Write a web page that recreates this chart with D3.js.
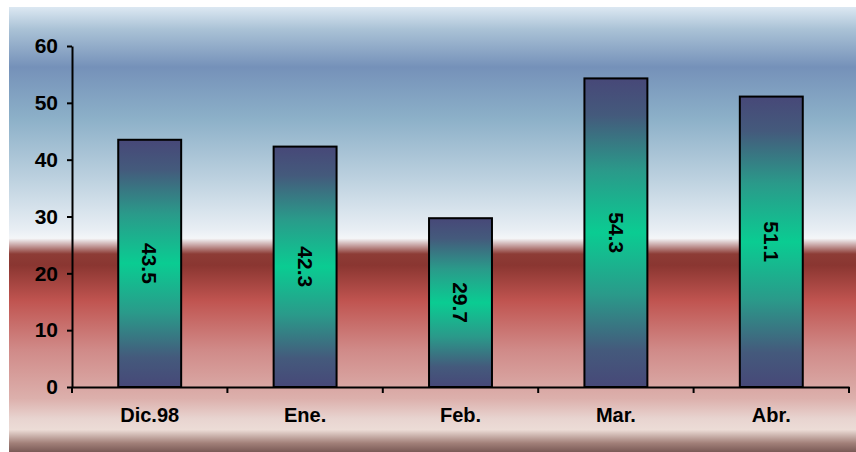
<!DOCTYPE html>
<html><head><meta charset="utf-8">
<script src="https://cdn.jsdelivr.net/npm/d3@7"></script>
<style>html,body{margin:0;padding:0;background:#fff;}svg{display:block;}</style>
</head><body>
<script>
const categories = ["Dic.98", "Ene.", "Feb.", "Mar.", "Abr."];
const values = [43.5, 42.3, 29.7, 54.3, 51.1];
const yTicks = [0, 10, 20, 30, 40, 50, 60];

const W = 856, H = 452;
const svg = d3.select("body").append("svg").attr("width", W).attr("height", H);
const defs = svg.append("defs");

const bg = defs.append("linearGradient").attr("id", "bg").attr("x1", 0).attr("y1", 0).attr("x2", 0).attr("y2", 1);
const bgStops = [
  [0, "#dce8f2"], [0.05, "#aac2d6"], [0.135, "#7591b9"], [0.25, "#8cb0c8"],
  [0.39, "#bed2e0"], [0.5, "#e8eef4"], [0.52, "#f4f6f8"], [0.535, "#c9a6a6"],
  [0.555, "#8d3c36"], [0.58, "#8a3631"], [0.66, "#c05450"], [0.77, "#d08a88"],
  [0.88, "#dcb0ac"], [0.925, "#e8d4d0"], [0.95, "#ecdcd6"], [0.98, "#a28079"], [1, "#7a5a56"]
];
bgStops.forEach(s => bg.append("stop").attr("offset", s[0]).attr("stop-color", s[1]));

const bar = defs.append("linearGradient").attr("id", "bar").attr("x1", 0).attr("y1", 0).attr("x2", 0).attr("y2", 1);
[[0, "#474878"], [0.12, "#445a7c"], [0.3, "#2a9a8a"], [0.5, "#0acc92"], [0.7, "#2a9a8a"], [0.88, "#445a7c"], [1, "#474878"]]
  .forEach(s => bar.append("stop").attr("offset", s[0]).attr("stop-color", s[1]));

svg.append("rect").attr("x", 9).attr("y", 7).attr("width", W - 9).attr("height", H - 7).attr("fill", "url(#bg)");

const x = d3.scaleBand().domain(categories).range([72, 849]).padding(0);
const y = d3.scaleLinear().domain([0, 60]).range([387, 46]);
const bw = x.bandwidth() * 0.405;

const font = "'Liberation Sans', Arial, sans-serif";

svg.selectAll("rect.bar").data(values).join("rect").attr("class", "bar")
  .attr("x", (d, i) => x(categories[i]) + x.bandwidth() / 2 - bw / 2)
  .attr("y", d => y(d))
  .attr("width", bw)
  .attr("height", d => y(0) - y(d))
  .attr("fill", "url(#bar)")
  .attr("stroke", "#000").attr("stroke-width", 2);

svg.selectAll("text.val").data(values).join("text").attr("class", "val")
  .attr("transform", (d, i) => `translate(${x(categories[i]) + x.bandwidth() / 2},${(y(d) + y(0)) / 2}) rotate(90)`)
  .attr("text-anchor", "middle").attr("dy", "0.35em")
  .attr("font-family", font).attr("font-weight", "bold").attr("font-size", 21)
  .attr("fill", "#000")
  .text(d => d.toFixed(1));

// Y axis
const yAxis = svg.append("g").attr("transform", "translate(72,0)")
  .call(d3.axisLeft(y).tickValues(yTicks).tickSize(5).tickPadding(9).tickSizeOuter(0));
yAxis.select(".domain").attr("stroke", "#000").attr("stroke-width", 2);
yAxis.selectAll(".tick line").attr("stroke", "#000").attr("stroke-width", 2);
yAxis.selectAll(".tick text").attr("font-family", font).attr("font-weight", "bold").attr("font-size", 21).attr("fill", "#000");

// X axis
const xAxis = svg.append("g").attr("transform", "translate(0,387)")
  .call(d3.axisBottom(x).tickSize(0).tickPadding(21).tickSizeOuter(0));
xAxis.select(".domain").attr("stroke", "#000").attr("stroke-width", 2);
xAxis.selectAll(".tick text").attr("font-family", font).attr("font-weight", "bold").attr("font-size", 20).attr("fill", "#000");

// boundary ticks on x axis
const bounds = categories.map(c => x(c)).concat([x.range()[1]]);
svg.append("g").selectAll("line").data(bounds).join("line")
  .attr("x1", d => d).attr("x2", d => d).attr("y1", 387).attr("y2", 393)
  .attr("stroke", "#000").attr("stroke-width", 2);
</script>
</body></html>
